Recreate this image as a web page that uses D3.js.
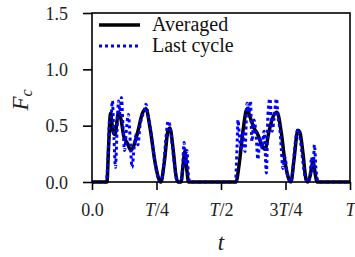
<!DOCTYPE html>
<html><head><meta charset="utf-8">
<script src="https://cdn.jsdelivr.net/npm/d3@7"></script>
<style>
html,body{margin:0;padding:0;background:#fff;}
</style></head>
<body><svg id="c" width="355" height="257"></svg>
<script>
// time in units of the period T
const avgT = [0,0.058,0.064,0.072,0.081,0.089,0.103,0.112,0.124,0.136,0.151,0.163,0.178,0.194,0.209,0.225,0.244,0.260,0.267,0.279,0.295,0.302,0.314,0.326,0.333,0.345,0.353,0.360,0.368,0.374,0.558,0.570,0.585,0.601,0.612,0.628,0.643,0.659,0.671,0.686,0.702,0.717,0.733,0.748,0.764,0.771,0.783,0.798,0.806,0.818,0.829,0.837,0.845,0.857,0.866,0.872,1.0];
const avgF = [0,0,0.30,0.61,0.45,0.42,0.62,0.56,0.40,0.35,0.28,0.33,0.45,0.60,0.65,0.48,0.18,0.02,0,0.15,0.46,0.48,0.30,0.05,0,0,0.15,0.27,0.10,0,0,0.15,0.45,0.65,0.58,0.48,0.42,0.32,0.29,0.45,0.58,0.62,0.45,0.18,0.02,0,0.20,0.46,0.44,0.25,0.03,0,0.05,0.18,0.06,0,0];
const lastT = [0,0.054,0.062,0.068,0.074,0.079,0.085,0.091,0.097,0.103,0.109,0.114,0.120,0.126,0.134,0.141,0.149,0.155,0.163,0.171,0.178,0.186,0.194,0.202,0.209,0.217,0.225,0.233,0.240,0.248,0.256,0.264,0.271,0.279,0.287,0.295,0.302,0.310,0.318,0.326,0.333,0.345,0.351,0.357,0.363,0.368,0.374,0.380,0.556,0.562,0.566,0.571,0.578,0.585,0.593,0.601,0.609,0.614,0.620,0.628,0.636,0.643,0.651,0.659,0.667,0.676,0.682,0.690,0.698,0.705,0.715,0.721,0.729,0.734,0.740,0.748,0.756,0.764,0.771,0.779,0.787,0.795,0.800,0.806,0.814,0.822,0.829,0.837,0.845,0.851,0.857,0.862,0.868,0.874,0.880,1.0];
const lastF = [0,0,0.20,0.55,0.58,0.72,0.40,0.13,0.45,0.72,0.60,0.75,0.50,0.28,0.48,0.60,0.33,0.13,0.30,0.42,0.33,0.50,0.58,0.63,0.69,0.60,0.50,0.36,0.24,0.12,0.04,0,0.03,0.18,0.40,0.54,0.50,0.35,0.18,0.04,0,0,0.12,0.35,0.15,0.28,0.05,0,0,0.30,0.55,0.42,0.28,0.45,0.27,0.70,0.62,0.72,0.36,0.55,0.42,0.20,0.40,0.30,0.45,0.08,0.60,0.74,0.45,0.55,0.74,0.58,0.45,0.28,0.12,0.22,0.08,0.02,0,0.12,0.33,0.45,0.47,0.40,0.25,0.10,0.02,0,0.05,0.22,0.10,0.33,0.12,0.02,0,0];
const xTicks = [0,0.25,0.5,0.75,1];
const xTickLabels = ["0.0","T/4","T/2","3T/4","T"];
const yTicks = [0,0.5,1.0,1.5];
const yTickLabels = ["0.0","0.5","1.0","1.5"];
const seriesNames = ["Averaged","Last cycle"];

const FONT = "Liberation Serif";
const svg = d3.select("#c");
const L=92, R=350, Tp=13, B=182;
const x = d3.scaleLinear().domain([0,1]).range([L,R]);
const y = d3.scaleLinear().domain([0,1.5]).range([B,Tp]);

const g = svg.append("g");
const line = d3.line().x(d=>x(d[0])).y(d=>y(d[1])).curve(d3.curveMonotoneX);
g.append("path").datum(avgT.map((t,i)=>[t,avgF[i]]))
  .attr("d",line).attr("fill","none").attr("stroke","#000").attr("stroke-width",3.5);
g.append("path").datum(lastT.map((t,i)=>[t,lastF[i]]))
  .attr("d",line).attr("fill","none").attr("stroke","#0000ff").attr("stroke-width",3)
  .attr("stroke-dasharray","3,3");

// frame
svg.append("rect").attr("x",L).attr("y",Tp).attr("width",R-L).attr("height",B-Tp)
  .attr("fill","none").attr("stroke","#000").attr("stroke-width",1.6);

// axes
const xAxis = d3.axisBottom(x).tickValues(xTicks).tickSize(8).tickPadding(8)
  .tickFormat(()=> "");
const gx = svg.append("g").attr("transform",`translate(0,${B})`).call(xAxis);
const yAxis = d3.axisLeft(y).tickValues(yTicks).tickSize(9).tickPadding(15)
  .tickFormat((d,i)=>yTickLabels[i]);
const gy = svg.append("g").attr("transform",`translate(${L},0)`).call(yAxis);
[gx,gy].forEach(a=>{a.select(".domain").remove();
  a.attr("font-family",null);
  a.selectAll(".tick line").attr("stroke","#000").attr("stroke-width",1.6);
  a.selectAll("text").style("font-family",FONT).style("font-size","18px").attr("fill","#222");});
gy.selectAll("text").attr("dy","0.35em");

gx.selectAll(".tick").each(function(d,i){
  const t = d3.select(this).select("text").attr("y",34).attr("dy",null);
  t.text(null);
  xTickLabels[i].split(/(T)/).filter(s=>s.length).forEach(s=>{
    t.append("tspan").text(s).style("font-style", s==="T"?"italic":"normal");
  });
});

// axis titles
const yl = svg.append("text").attr("transform","translate(28,100) rotate(-90)")
  .attr("text-anchor","middle").style("font-family",FONT).style("font-size","23px").attr("fill","#222");
yl.append("tspan").text("F").style("font-style","italic");
yl.append("tspan").text("c").style("font-style","italic").style("font-size","16px").attr("dy",4);
svg.append("text").attr("x",221).attr("y",250).attr("text-anchor","middle")
  .style("font-family",FONT).style("font-size","23px").style("font-style","italic").attr("fill","#222").text("t");

// legend
const leg = svg.append("g");
const ly = [25,46];
leg.append("line").attr("x1",99).attr("x2",140).attr("y1",ly[0]).attr("y2",ly[0])
  .attr("stroke","#000").attr("stroke-width",3.5);
leg.append("line").attr("x1",99).attr("x2",141).attr("y1",ly[1]).attr("y2",ly[1])
  .attr("stroke","#0000ff").attr("stroke-width",3).attr("stroke-dasharray","3,3");
seriesNames.forEach((n,i)=>{
  leg.append("text").attr("x",152).attr("y",ly[i]+6).style("font-family",FONT).style("font-size","20px")
    .attr("fill","#111").text(n);
});
</script></body></html>
